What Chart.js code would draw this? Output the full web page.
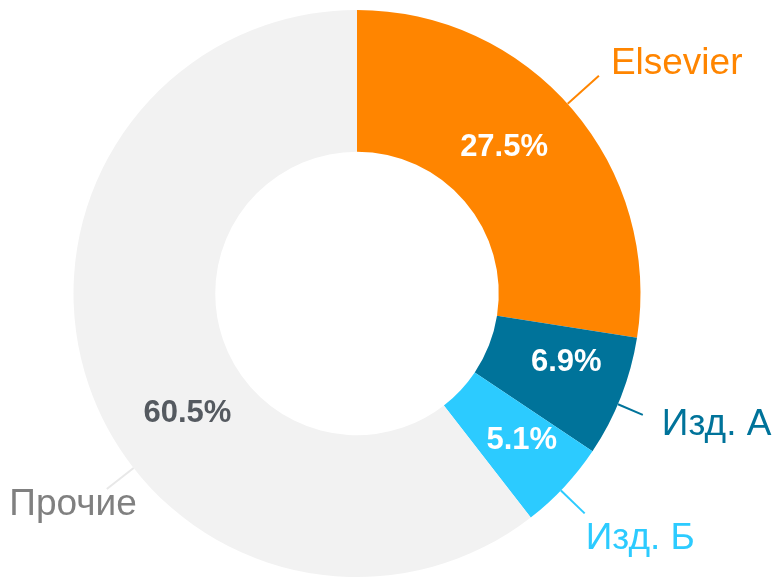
<!DOCTYPE html>
<html>
<head>
<meta charset="utf-8">
<script src="https://cdn.jsdelivr.net/npm/chart.js@4"></script>
<style>
  html, body { margin: 0; padding: 0; background: #fff; }
  #wrap { width: 774px; height: 577px; }
</style>
</head>
<body>
<div id="wrap"><canvas id="share-chart" width="774" height="577"></canvas></div>
<script>
// ── Data ──────────────────────────────────────────────────────
const categories = ['Elsevier', 'Изд. А', 'Изд. Б', 'Прочие'];
const shares = [27.5, 6.9, 5.1, 60.5];

// ── Styles ────────────────────────────────────────────────────
const sliceColors = ['#ff8500', '#00739a', '#2ccbff', '#f2f2f2'];
const nameColors = ['#ff8500', '#00739a', '#2ccbff', '#808080'];
const lineColors = ['#ff8500', '#00739a', '#2ccbff', '#e8e8e8'];
const valueColors = ['#ffffff', '#ffffff', '#ffffff', '#555a60'];
// angle (deg, clockwise from top) of leader line / value text, length, text offset
const leaderAngle = [48, 113, 134, 232];
const leaderLen = [42, 27, 33, 34];
const valueAngle = [45, 108, 131.5, 235];
const valueRadius = [208, 220, 220, 207];
const nameOffset = [
  { dx: 12, dy: -12, align: 'left' },
  { dx: 19, dy: 10, align: 'left' },
  { dx: 1, dy: 25, align: 'left' },
  { dx: 30, dy: 16, align: 'right' },
];

const FONT = '"Liberation Sans", Arial, sans-serif';

function polar(cx, cy, r, deg) {
  const a = deg * Math.PI / 180;
  return { x: cx + r * Math.sin(a), y: cy - r * Math.cos(a) };
}

// ── Labels plugin ─────────────────────────────────────────────
const sliceLabels = {
  id: 'sliceLabels',
  afterDatasetsDraw(chart) {
    const ctx = chart.ctx;
    const arcs = chart.getDatasetMeta(0).data;
    ctx.save();
    arcs.forEach((arc, i) => {
      const { x, y, outerRadius } = arc.getProps(['x', 'y', 'outerRadius'], true);

      // leader line
      const p0 = polar(x, y, outerRadius, leaderAngle[i]);
      const p1 = polar(x, y, outerRadius + leaderLen[i], leaderAngle[i]);
      ctx.strokeStyle = lineColors[i];
      ctx.lineWidth = 2;
      ctx.beginPath();
      ctx.moveTo(p0.x, p0.y);
      ctx.lineTo(p1.x, p1.y);
      ctx.stroke();

      // category name
      const o = nameOffset[i];
      ctx.font = '37px ' + FONT;
      ctx.fillStyle = nameColors[i];
      ctx.textAlign = o.align;
      ctx.textBaseline = 'middle';
      ctx.fillText(categories[i], p1.x + o.dx, p1.y + o.dy);

      // percent value
      const pv = polar(x, y, valueRadius[i], valueAngle[i]);
      ctx.font = 'bold 31px ' + FONT;
      ctx.fillStyle = valueColors[i];
      ctx.textAlign = 'center';
      ctx.fillText(shares[i].toFixed(1) + '%', pv.x, pv.y + 1);
    });
    ctx.restore();
  }
};

new Chart(document.getElementById('share-chart'), {
  type: 'doughnut',
  data: {
    labels: categories,
    datasets: [{
      data: shares,
      backgroundColor: sliceColors,
      borderWidth: 0,
      hoverOffset: 0,
    }]
  },
  options: {
    responsive: false,
    animation: false,
    cutout: '50%',
    layout: { padding: { left: 73, right: 133, top: 10, bottom: 0 } },
    plugins: {
      legend: { display: false },
      tooltip: { enabled: false }
    },
    events: []
  },
  plugins: [sliceLabels]
});
</script>
</body>
</html>
